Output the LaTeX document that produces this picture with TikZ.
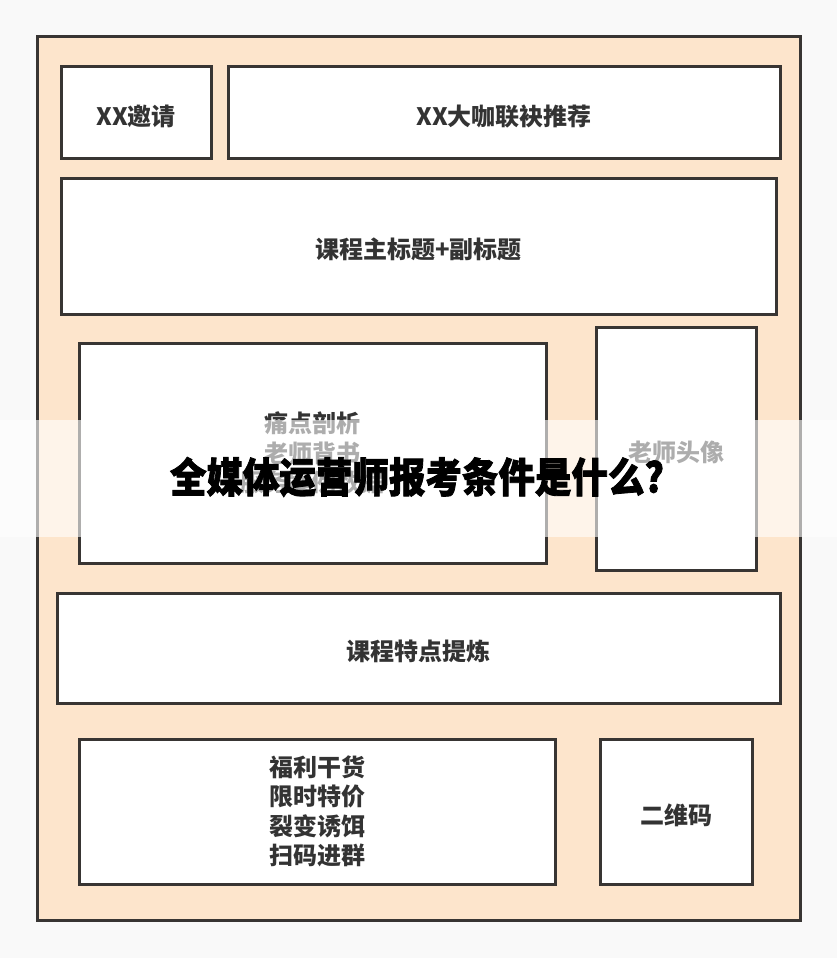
\documentclass[tikz,border=0pt]{standalone}
\usepackage{fontspec}
\newfontfamily\cjkfont{Noto Sans CJK SC}
\newfontfamily\headfont{Noto Sans CJK SC}[BoldFeatures={FakeBold=2}]
\definecolor{paper}{HTML}{F9F9F9}
\definecolor{peach}{HTML}{FDE5CC}
\definecolor{edge}{HTML}{383533}
\definecolor{ink}{HTML}{333333}
\begin{document}
\begin{tikzpicture}[x=1pt,y=-1pt,
  panel/.style={draw=edge,line width=3pt,fill=white,inner sep=0pt},
  boxtext/.style={font=\cjkfont\bfseries\fontsize{24}{29.5}\selectfont,text=ink,align=center,
    execute at begin node={\rule{0pt}{28pt}}}]
\useasboundingbox (0,0) rectangle (837,958);
\fill[paper] (0,0) rectangle (837,958);
\node[panel,fill=peach,minimum width=763,minimum height=883] (frame) at (418.5,478.5) {};

\node[panel,boxtext,minimum width=150,minimum height=91] (invite) at (136,112.5) {XX邀请};
\node[panel,boxtext,minimum width=552,minimum height=91] (recommend) at (504,112.5) {XX大咖联袂推荐};
\node[panel,boxtext,minimum width=715,minimum height=136] (course) at (418.5,246) {课程主标题+副标题};
\node[panel,boxtext,minimum width=467,minimum height=220] (pain) at (312.5,453) {痛点剖析\\老师背书\\服务案例数据};
\node[panel,boxtext,minimum width=160,minimum height=243] (avatar) at (676,448.5) {老师头像};
\node[panel,boxtext,minimum width=723,minimum height=110] (feature) at (418.5,648) {课程特点提炼};
\node[panel,boxtext,minimum width=476,minimum height=145] (bonus) at (317,811.5) {福利干货\\限时特价\\裂变诱饵\\扫码进群};
\node[panel,boxtext,minimum width=152,minimum height=145] (qrcode) at (676,811.5) {二维码};

% title band over the layout
\fill[white,opacity=0.6] (0,420) rectangle (837,537);
\node[font=\headfont\bfseries\fontsize{41}{41}\selectfont,xscale=0.89,text=black] (title) at (417,477) {全媒体运营师报考条件是什么?};
\end{tikzpicture}
\end{document}
